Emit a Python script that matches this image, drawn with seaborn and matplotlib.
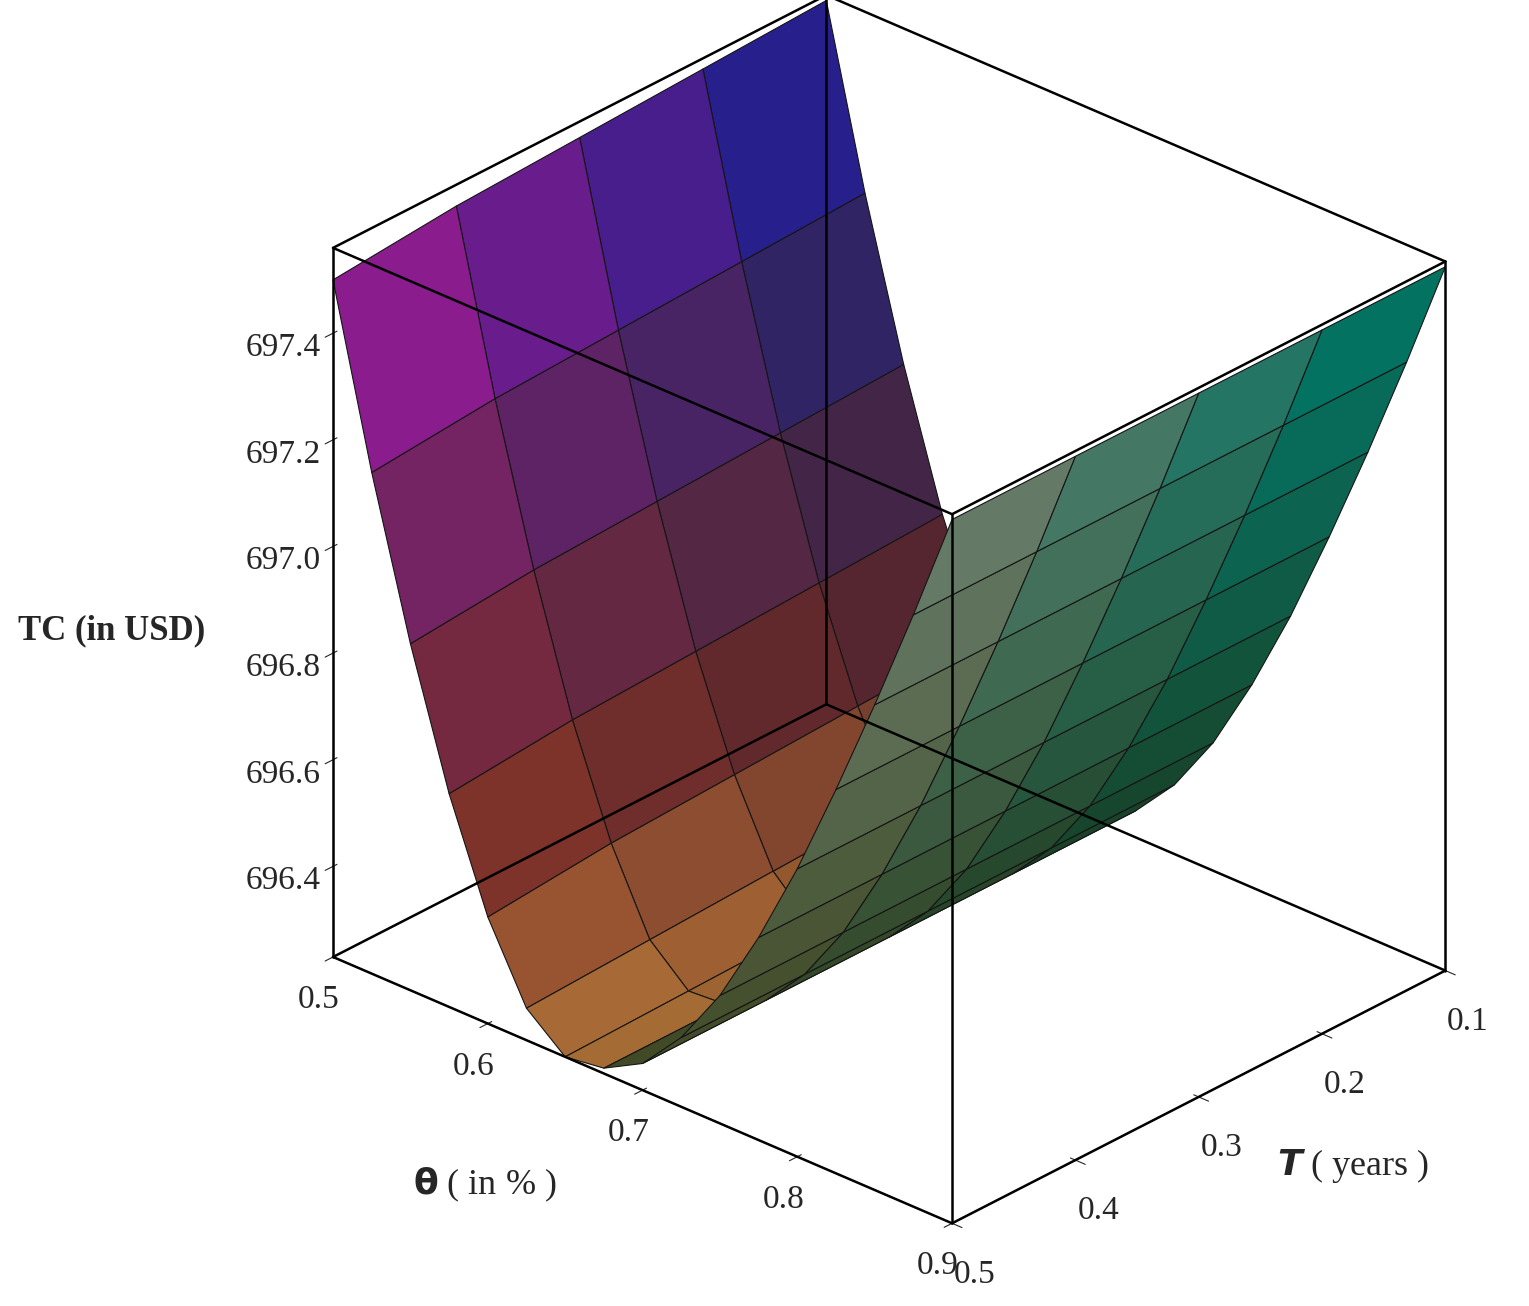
import numpy as np
import matplotlib
matplotlib.use("Agg")
import matplotlib.pyplot as plt
import seaborn as sns

sns.set_style("white")
plt.rcParams['font.family'] = ['Liberation Serif', 'DejaVu Serif']

theta = [0.50, 0.525, 0.55, 0.575, 0.60, 0.625, 0.65, 0.675, 0.70, 0.725, 0.75,
         0.775, 0.80, 0.825, 0.85, 0.875, 0.90]
T_years = [0.1, 0.2, 0.3, 0.4, 0.5]
# TC along theta, one list per T value
TC_T01 = [697.55, 697.22, 696.93, 696.68, 696.48, 696.33, 696.25, 696.24, 696.28,
          696.36, 696.47, 696.61, 696.77, 696.95, 697.14, 697.34, 697.55]
TC_T02 = [697.54, 697.21, 696.92, 696.67, 696.47, 696.32, 696.245, 696.24, 696.28,
          696.36, 696.47, 696.61, 696.77, 696.95, 697.14, 697.34, 697.55]
TC_T03 = [697.53, 697.20, 696.91, 696.66, 696.46, 696.31, 696.24, 696.24, 696.28,
          696.36, 696.47, 696.61, 696.77, 696.95, 697.14, 697.34, 697.55]
TC_T04 = [697.52, 697.19, 696.90, 696.65, 696.45, 696.30, 696.235, 696.24, 696.28,
          696.36, 696.47, 696.61, 696.77, 696.95, 697.14, 697.34, 697.55]
TC_T05 = [697.50, 697.17, 696.88, 696.63, 696.43, 696.29, 696.23, 696.24, 696.28,
          696.36, 696.47, 696.61, 696.77, 696.95, 697.14, 697.34, 697.55]
z_ticks = [696.4, 696.6, 696.8, 697.0, 697.2, 697.4]
theta_ticks = [0.5, 0.6, 0.7, 0.8, 0.9]

Z = np.array([TC_T01, TC_T02, TC_T03, TC_T04, TC_T05])  # (T, theta)
X, Y = np.meshgrid(T_years, theta, indexing='ij')

zmin, zmax = 696.23, 697.56
fig = plt.figure(figsize=(15.29, 13.06), dpi=100)
ax = fig.add_axes([0.125, 0.02, 0.89, 1.0], projection='3d')
ax.set_proj_type('ortho')

zn = np.clip((Z - zmin) / (zmax - zmin), 0, 1)
tn = (X - 0.1) / 0.4  # 0 at back, 1 at front

def ramp(stops, t):
    t = np.asarray(t)
    pos = np.linspace(0, 1, len(stops))
    out = np.zeros(t.shape + (3,))
    for k in range(3):
        out[..., k] = np.interp(t, pos, [s[k] for s in stops])
    return out

left_front = ramp([(1.0, 0.68, 0.32), (0.62, 0.22, 0.18), (0.55, 0.15, 0.38), (0.68, 0.10, 0.58)], zn)
left_back = ramp([(0.85, 0.50, 0.25), (0.40, 0.18, 0.22), (0.22, 0.16, 0.38), (0.15, 0.12, 0.55)], zn)
leftc = left_front * tn[..., None] + left_back * (1 - tn[..., None])
dk = np.clip((Y - 0.5) / 0.16, 0, 1)[..., None]
leftc = leftc * (1 - 0.35 * dk)
right_front = ramp([(0.30, 0.30, 0.15), (0.45, 0.43, 0.32), (0.55, 0.52, 0.45)], zn)
right_back = ramp([(0.10, 0.25, 0.15), (0.05, 0.38, 0.30), (0.0, 0.48, 0.42)], zn)
rightc = right_front * tn[..., None] + right_back * (1 - tn[..., None])
side = (Y < 0.66)[..., None]
cols = np.clip(np.where(side, leftc, rightc), 0, 1)

ax.plot_surface(X, Y, Z, facecolors=cols, edgecolor='#151515', linewidth=0.8,
                shade=False, antialiased=True)

ax.set_xlim(0.1, 0.5); ax.set_ylim(0.5, 0.9); ax.set_zlim(zmin, zmax)
ax.view_init(elev=28, azim=42.5)
ax.set_box_aspect((1, 1.15, 1.1), zoom=1.02)
for a in (ax.xaxis, ax.yaxis, ax.zaxis):
    a.set_pane_color((1, 1, 1, 0))
    a.line.set_color('black')
ax.grid(False)

xs, ys, zs = (0.1, 0.5), (0.5, 0.9), (zmin, zmax)
for x in xs:
    for y in ys:
        ax.plot([x, x], [y, y], zs, color='black', lw=1.8, zorder=10)
for z in zs:
    for x in xs:
        ax.plot([x, x], ys, [z, z], color='black', lw=1.8, zorder=10)
    for y in ys:
        ax.plot(xs, [y, y], [z, z], color='black', lw=1.8, zorder=10)

ax.set_xticks(T_years); ax.set_xticklabels([f"{t:.1f}" for t in T_years], fontsize=24)
ax.set_yticks(theta_ticks); ax.set_yticklabels([f"{t:.1f}" for t in theta_ticks], fontsize=24)
ax.set_zticks(z_ticks); ax.set_zticklabels([f"{t:.1f}" for t in z_ticks], fontsize=24)
ax.tick_params(axis='x', pad=10)
ax.tick_params(axis='y', pad=6)
ax.tick_params(axis='z', pad=14)
ax.set_xlabel(""); ax.set_ylabel(""); ax.set_zlabel("")

fig.text(0.012, 0.517, "TC (in USD)", fontsize=25, fontweight='bold', ha='left', va='center')
fig.text(0.27, 0.093, r"$\mathbf{\theta}$ ( in % )", fontsize=26, ha='left', va='center')
fig.text(0.835, 0.107, r"$\boldsymbol{T}$ ( years )", fontsize=26, ha='left', va='center')

fig.savefig("out.png", dpi=100)
